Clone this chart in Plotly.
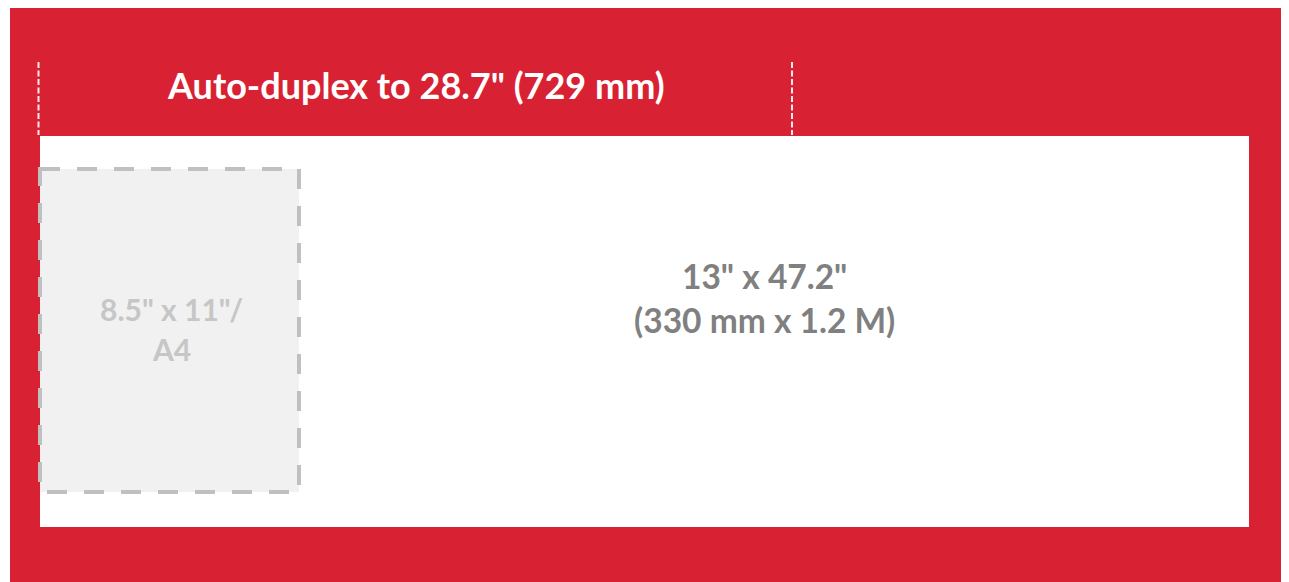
import plotly.graph_objects as go

# Diagram content (sizes in inches as labelled)
header_text = ['Auto-duplex to 28.7" (729 mm)']
max_sheet_text = ['13" x 47.2"', '(330 mm x 1.2 M)']
small_sheet_text = ['8.5" x 11"/', 'A4']

W, H = 1289, 582
OFF = 8  # page body margin
RED = "#d82233"
FONT = "Lato"

fig = go.Figure()
fig.add_trace(go.Scatter(x=[OFF, W], y=[OFF, H], mode="markers",
                         marker=dict(opacity=0), hoverinfo="skip", showlegend=False))

shapes = [
    dict(type="rect", x0=10, x1=1285, y0=8, y1=590, fillcolor=RED, line=dict(width=0), layer="below"),
    dict(type="rect", x0=40, x1=1249, y0=136, y1=527, fillcolor="white", line=dict(width=0), layer="below"),
    dict(type="line", x0=38.5, x1=38.5, y0=62, y1=135,
         line=dict(color="rgba(255,255,255,0.9)", width=2, dash="6px,2.5px")),
    dict(type="line", x0=792, x1=792, y0=62, y1=135,
         line=dict(color="rgba(255,255,255,0.9)", width=2, dash="6px,2.5px")),
    dict(type="rect", x0=40, x1=299, y0=169, y1=492, fillcolor="#f1f1f1",
         line=dict(color="#c0c0c0", width=4, dash="20px,17px")),
]

def label(x, y, text, size, color, anchor="middle"):
    return dict(x=x, y=y, text=text, showarrow=False, xanchor="center", yanchor=anchor,
                font=dict(family=FONT, size=size, color=color, weight="bold"))

annotations = [
    label(416, 85, header_text[0], 36, "white"),
    label(764, 297.5, max_sheet_text[0], 33.5, "#808080", "bottom"),
    label(764, 297.5, max_sheet_text[1], 33.5, "#808080", "top"),
    label(171, 329, small_sheet_text[0], 30, "#c6c6c6", "bottom"),
    label(171, 329, small_sheet_text[1], 30, "#c6c6c6", "top"),
]

fig.update_layout(
    width=W - OFF, height=H - OFF,
    margin=dict(l=0, r=0, t=0, b=0),
    paper_bgcolor="white", plot_bgcolor="white",
    xaxis=dict(range=[OFF, W], visible=False, fixedrange=True),
    yaxis=dict(range=[H, OFF], visible=False, fixedrange=True),
    shapes=shapes, annotations=annotations, showlegend=False,
)
fig.write_html("out.html")
